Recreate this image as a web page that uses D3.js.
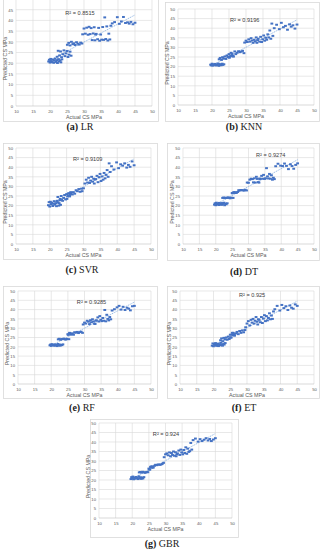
<!DOCTYPE html>
<html>
<head>
<meta charset="utf-8">
<script src="https://cdnjs.cloudflare.com/ajax/libs/d3/7.8.5/d3.min.js"></script>
<style>
body { margin: 0; background: #fff; }
</style>
</head>
<body>
<svg id="chart" width="324" height="550"></svg>
<script>
// actual compressive strength of the test samples (same for every model)
var actualCS = [19.6,19.8,20.0,20.2,20.4,20.6,20.9,21.1,21.3,21.5,21.8,22.0,22.2,22.5,22.7,23.0,23.2,23.5,
    22.1,22.4,22.8,23.1,23.4,23.8,24.1,24.4,24.7,25.0,25.3,25.6,25.9,26.2,
    25.1,25.5,25.9,26.3,26.7,27.0,27.4,27.8,28.2,28.6,29.0,29.4,
    29.6,30.0,30.4,30.8,31.2,31.5,31.8,32.1,32.4,32.7,33.0,33.4,
    33.2,33.6,34.0,34.3,34.6,34.9,35.2,35.5,35.8,36.1,36.4,36.7,37.0,37.3,37.6,37.9,
    38.3,39.0,39.8,40.4,41.0,41.6,42.2,42.8,43.3,43.8,44.4,45.0];

var predLR = [20.8,21.6,20.3,22.0,21.0,20.5,21.7,20.2,21.2,22.1,20.6,21.4,20.1,21.9,20.9,21.3,20.4,21.8,
    23.0,25.8,23.6,25.5,22.8,24.2,26.0,23.3,24.6,25.7,22.9,24.0,25.4,23.5,
    28.6,29.5,28.3,30.0,28.9,29.3,28.5,29.8,29.1,28.7,29.6,29.2,
    33.5,36.2,33.8,36.6,33.3,37.0,33.6,36.4,30.8,33.9,36.8,33.4,
    30.7,33.7,31.2,36.5,30.5,33.4,31.0,36.9,30.9,41.4,31.3,37.2,30.6,33.8,31.1,37.5,
    38.6,39.2,41.5,38.4,39.5,41.6,38.8,39.1,38.5,39.3,38.2,38.9];
var predKNN = [21.0,20.7,21.5,20.5,21.2,20.9,21.4,20.6,21.1,20.8,21.6,20.4,21.3,21.0,20.7,21.5,20.9,21.2,
    23.8,24.5,23.5,24.9,24.2,25.3,24.0,25.8,25.0,26.5,25.2,27.2,26.0,25.5,
    24.6,25.5,26.8,25.2,27.9,26.5,27.2,28.0,27.5,27.8,28.2,27.0,
    32.5,33.5,32.8,34.2,33.0,34.8,33.6,32.4,34.0,33.2,35.2,33.8,
    32.4,34.5,33.0,35.5,32.8,34.2,36.2,33.5,35.0,34.0,36.8,35.2,38.8,34.5,42.4,36.0,
    40.0,41.8,39.5,42.8,40.5,41.2,39.2,42.0,40.8,41.5,39.8,41.9];
var predSVR = [20.2,21.8,19.5,22.0,20.8,21.5,19.8,21.0,22.3,20.5,21.2,19.7,22.5,21.6,20.0,22.8,20.4,23.0,
    22.0,24.5,21.2,23.5,25.0,22.5,24.0,25.5,23.2,26.0,24.8,26.5,25.5,27.0,
    23.5,25.2,24.8,26.5,25.8,27.0,26.2,28.0,27.5,28.6,27.2,28.8,
    27.5,29.0,31.5,33.5,32.0,34.5,31.8,33.0,35.0,32.5,34.0,33.6,
    31.5,33.8,35.5,32.2,34.8,36.5,32.8,35.2,33.5,37.0,34.2,36.0,38.5,35.0,42.0,37.5,
    40.5,38.8,42.5,39.5,41.5,40.8,42.0,39.8,41.2,40.2,43.0,41.0];
var predDT = [20.5,21.2,20.2,21.5,20.8,21.0,20.3,21.4,20.6,21.1,20.4,21.3,20.9,21.5,20.2,21.0,20.7,21.2,
    24.0,24.2,23.9,24.1,24.0,24.3,24.0,23.8,24.1,26.5,24.0,26.8,26.6,26.9,
    26.5,27.0,26.8,26.6,27.1,28.0,27.9,28.1,28.0,27.8,28.2,27.9,
    32.0,31.9,33.5,34.0,33.8,32.1,34.2,32.0,35.0,33.9,32.2,34.1,
    32.0,33.8,35.5,34.0,36.0,33.9,34.2,39.5,35.2,34.1,36.5,34.0,35.8,33.5,34.5,33.8,
    40.5,41.8,40.8,40.6,41.9,40.7,39.0,41.5,40.6,39.2,41.2,42.0];
var predRF = [20.8,21.2,20.5,21.4,20.9,21.1,20.6,21.3,20.7,21.0,20.4,21.5,20.8,21.2,20.6,21.0,20.9,21.3,
    24.0,24.3,23.8,24.1,24.2,24.4,24.0,23.9,24.2,26.8,24.1,27.2,26.6,27.0,
    26.4,27.5,26.8,27.2,26.5,27.8,27.6,28.0,27.4,27.9,28.1,27.5,
    32.0,33.0,32.5,34.0,33.5,32.2,34.3,33.2,34.8,33.6,32.4,34.1,
    32.3,34.2,35.8,33.6,36.5,34.5,33.8,35.5,34.0,39.8,33.7,37.2,35.0,34.2,36.0,34.8,
    39.5,40.2,41.2,42.0,40.0,41.5,39.8,41.0,40.5,39.6,41.8,42.0];
var predET = [20.6,21.8,20.3,21.5,21.0,22.0,20.5,21.2,21.7,20.4,21.4,20.8,22.1,21.0,20.6,21.6,21.2,22.0,
    23.5,24.5,23.0,24.8,24.0,25.0,23.8,25.5,24.2,26.5,25.0,27.5,26.2,26.8,
    25.0,26.5,27.5,26.0,27.2,28.0,26.8,28.5,27.5,28.8,27.8,29.0,
    30.5,32.5,33.8,31.5,34.5,33.0,35.0,32.5,34.0,36.0,33.5,34.8,
    32.0,34.5,33.2,36.0,32.8,35.2,37.0,33.8,36.5,34.2,35.5,38.0,34.8,36.8,35.0,39.0,
    40.2,42.0,39.5,42.5,40.8,41.8,39.8,42.2,41.0,40.5,42.8,42.0];
var predGBR = [20.5,21.5,20.8,21.8,20.4,21.2,20.7,21.6,20.9,21.3,20.5,21.9,21.0,21.4,20.6,21.2,20.8,21.5,
    24.0,24.2,23.9,24.3,24.1,23.8,24.0,24.2,24.1,26.0,25.5,27.0,26.5,26.8,
    25.5,26.8,27.2,26.5,27.5,28.0,27.8,28.2,28.0,28.1,28.4,29.0,
    32.0,33.5,34.0,33.0,34.5,32.5,34.2,33.2,35.0,32.8,34.6,33.5,
    32.5,34.0,35.5,33.2,36.0,34.5,33.5,35.8,34.2,37.2,33.8,36.5,34.8,35.2,39.5,36.0,
    41.0,41.8,40.2,41.5,40.5,41.2,42.0,40.8,41.6,40.5,41.3,42.0];

var modelNames = ["LR", "KNN", "SVR", "DT", "RF", "ET", "GBR"];
var panelLetters = ["a", "b", "c", "d", "e", "f", "g"];
var r2Labels = ["0.8515", "0.9196", "0.9109", "0.9274", "0.9285", "0.925", "0.924"];
var xTicks = [10, 15, 20, 25, 30, 35, 40, 45, 50];
var yTicks = [0, 5, 10, 15, 20, 25, 30, 35, 40, 45, 50];
var predictions = [predLR, predKNN, predSVR, predDT, predRF, predET, predGBR];

// box: frame x0,y0,x1,y1 ; plot: left,right,top,bottom ; cap: caption x,y ; r2: label pos in data units
var layout = [
    {box: [3, -2, 158, 121], plot: [16, 152, -1, 106], cap: [80, 130], r2: [24.5, 42.5]},
    {box: [165, 2, 319, 121], plot: [178, 314, 9, 105], cap: [244, 130], r2: [25.3, 43.3]},
    {box: [3, 143, 157, 259], plot: [16, 151, 148, 244], cap: [82, 273], r2: [26.9, 43.3]},
    {box: [167, 143, 319, 260], plot: [183, 314, 148, 244], cap: [244, 275], r2: [32.3, 45.3]},
    {box: [3, 286, 157, 398], plot: [18, 151, 291, 384], cap: [82, 411], r2: [27.7, 43]},
    {box: [167, 286, 319, 398], plot: [180, 314, 291, 384], cap: [244, 411], r2: [27.6, 46.8]},
    {box: [90, 419, 238, 537], plot: [99, 232, 423, 518], cap: [162, 547], r2: [26.2, 43.3]}
];

var svg = d3.select("#chart");

function drawPanel(i) {
    var L = layout[i];
    var pred = predictions[i];
    var g = svg.append("g");

    g.append("rect")
        .attr("x", L.box[0] + 0.5).attr("y", L.box[1] + 0.5)
        .attr("width", L.box[2] - L.box[0]).attr("height", L.box[3] - L.box[1])
        .attr("fill", "#fff")
        .attr("stroke", "#d9d9d9")
        .attr("stroke-width", 0.8);

    var x = d3.scaleLinear().domain([10, 50]).range([L.plot[0], L.plot[1]]);
    var y = d3.scaleLinear().domain([0, 50]).range([L.plot[3], L.plot[2]]);

    // only ticks that fall inside the picture (panel a is cropped at the top)
    var shownY = yTicks.filter(function (d) { return y(d) > 3; });

    // grid
    g.selectAll("line.vgrid").data(xTicks).enter().append("line")
        .attr("x1", function (d) { return x(d); }).attr("x2", function (d) { return x(d); })
        .attr("y1", y(0)).attr("y2", y(50))
        .attr("stroke", "#d9d9d9").attr("stroke-width", 0.6);
    g.selectAll("line.hgrid").data(yTicks).enter().append("line")
        .attr("x1", x(10)).attr("x2", x(50))
        .attr("y1", function (d) { return y(d); }).attr("y2", function (d) { return y(d); })
        .attr("stroke", function (d) { return d === 0 ? "#bfbfbf" : "#d9d9d9"; })
        .attr("stroke-width", 0.6);

    var xAxis = d3.axisBottom(x).tickValues(xTicks).tickSize(0).tickPadding(4);
    var yAxis = d3.axisLeft(y).tickValues(shownY).tickSize(0).tickPadding(3);
    g.append("g").attr("transform", "translate(0," + y(0) + ")").call(xAxis);
    g.append("g").attr("transform", "translate(" + x(10) + ",0)").call(yAxis);
    g.selectAll(".domain").remove();
    g.selectAll(".tick text")
        .attr("font-family", "Liberation Sans, Arial, sans-serif")
        .attr("font-size", 4.2)
        .attr("fill", "#595959");

    // axis titles
    g.append("text")
        .attr("x", (x(10) + x(50)) / 2).attr("y", y(0) + 13)
        .attr("text-anchor", "middle")
        .attr("font-family", "Liberation Sans, Arial, sans-serif")
        .attr("font-size", 5.3).attr("fill", "#595959")
        .text("Actual CS MPa");
    g.append("text")
        .attr("transform", "translate(" + (x(10) - 9) + "," + ((y(0) + y(50)) / 2 + 6) + ") rotate(-90)")
        .attr("text-anchor", "middle")
        .attr("font-family", "Liberation Sans, Arial, sans-serif")
        .attr("font-size", 5.3).attr("fill", "#595959")
        .text("Predicted CS MPa");

    // linear trendline fitted to the points
    var mx = d3.mean(actualCS), my = d3.mean(pred);
    var sxy = d3.sum(actualCS, function (d, k) { return (d - mx) * (pred[k] - my); });
    var sxx = d3.sum(actualCS, function (d) { return (d - mx) * (d - mx); });
    var b = sxy / sxx, a = my - b * mx;
    var x0 = d3.min(actualCS), x1 = d3.max(actualCS);
    g.append("line")
        .attr("x1", x(x0)).attr("y1", y(a + b * x0))
        .attr("x2", x(x1)).attr("y2", y(a + b * x1))
        .attr("stroke", "#8db3e2").attr("stroke-width", 0.9)
        .attr("stroke-dasharray", "1.2,0.8");

    g.selectAll("rect.pt").data(actualCS).enter().append("rect")
        .attr("class", "pt")
        .attr("x", function (d) { return x(d) - 1.4; })
        .attr("y", function (d, k) { return y(pred[k]) - 1; })
        .attr("width", 2.8).attr("height", 2)
        .attr("fill", "#4472c4");

    g.append("text")
        .attr("x", x(L.r2[0])).attr("y", y(L.r2[1]))
        .attr("font-family", "Liberation Sans, Arial, sans-serif")
        .attr("font-size", 5.6).attr("fill", "#404040")
        .text("R\u00b2 = " + r2Labels[i]);

    // caption under the panel
    var cap = svg.append("text")
        .attr("x", L.cap[0]).attr("y", L.cap[1])
        .attr("text-anchor", "middle")
        .attr("font-family", "Liberation Serif, Times New Roman, serif")
        .attr("font-size", 10).attr("fill", "#222");
    cap.append("tspan").attr("font-weight", "bold").text("(" + panelLetters[i] + ")");
    cap.append("tspan").text(" " + modelNames[i]);
}

for (var i = 0; i < modelNames.length; i++) {
    drawPanel(i);
}
</script>
</body>
</html>
